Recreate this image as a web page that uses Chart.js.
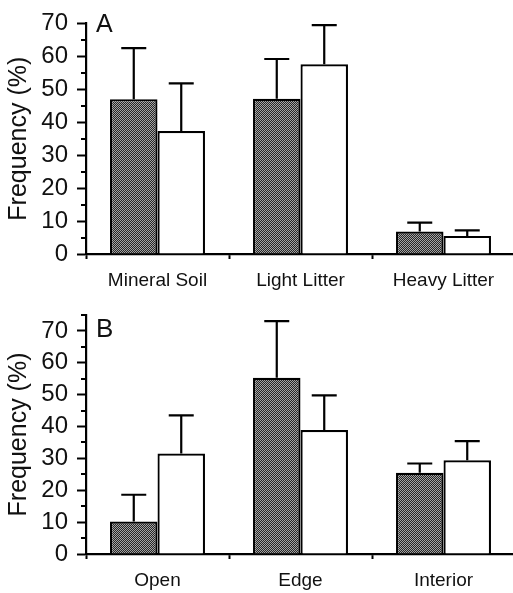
<!DOCTYPE html>
<html>
<head>
<meta charset="utf-8">
<script src="https://cdn.jsdelivr.net/npm/chart.js@4"></script>
<style>
  html, body { margin:0; padding:0; background:#fff; overflow:hidden; }
  .panel { position:absolute; left:0; }
  #panelA { top:0; }
  #panelB { top:290px; }
</style>
</head>
<body>
<canvas id="panelA" class="panel" width="515" height="290"></canvas>
<canvas id="panelB" class="panel" width="515" height="303"></canvas>
<script>
// panel A: substrate
const substrateCats = ['Mineral Soil', 'Light Litter', 'Heavy Litter'];
const substrateDark = [47, 47.1, 6.8];
const substrateDarkErr = [62.5, 59.2, 9.5];
const substrateLight = [37.3, 57.6, 5.5];
const substrateLightErr = [51.8, 69.5, 7.2];

// panel B: habitat
const habitatCats = ['Open', 'Edge', 'Interior'];
const habitatDark = [10.2, 55.3, 25.5];
const habitatDarkErr = [18.6, 73.1, 28.4];
const habitatLight = [31.5, 38.9, 29.4];
const habitatLightErr = [43.5, 49.8, 35.4];

const FONT = "'Liberation Sans', Arial, Helvetica, sans-serif";
const INK = '#111';

// fine stipple fill for the dark bars
function stipple(){
  const c = document.createElement('canvas');
  c.width = 2; c.height = 2;
  const g = c.getContext('2d');
  g.fillStyle = '#262626'; g.fillRect(0,0,2,2);
  g.fillStyle = '#a4a4a4'; g.fillRect(0,0,1,1); g.fillRect(1,1,1,1);
  return g.createPattern(c, 'repeat');
}

// upper error bars, read from dataset.errHi through the y scale
const errorBars = {
  id: 'errorBars',
  afterDatasetsDraw(chart){
    const ctx = chart.ctx, y = chart.scales.y;
    ctx.save();
    ctx.strokeStyle = '#000'; ctx.lineWidth = 2.2;
    chart.data.datasets.forEach((ds, di) => {
      chart.getDatasetMeta(di).data.forEach((bar, i) => {
        const top = y.getPixelForValue(ds.errHi[i]);
        ctx.beginPath();
        ctx.moveTo(bar.x, bar.y); ctx.lineTo(bar.x, top);
        ctx.moveTo(bar.x - 12.5, top); ctx.lineTo(bar.x + 12.5, top);
        ctx.stroke();
      });
    });
    ctx.restore();
  }
};

// short minor ticks on the y axis + panel letter
const extras = {
  id: 'extras',
  afterDraw(chart, args, opts){
    const ctx = chart.ctx, y = chart.scales.y, left = chart.chartArea.left;
    ctx.save();
    ctx.strokeStyle = '#000'; ctx.lineWidth = 2;
    y.ticks.forEach(t => {
      if(t.value % 10 === 0) return;
      const py = Math.round(y.getPixelForValue(t.value));
      ctx.beginPath(); ctx.moveTo(left - 5, py); ctx.lineTo(left, py); ctx.stroke();
    });
    ctx.fillStyle = INK;
    ctx.font = opts.size + 'px ' + FONT;
    ctx.textBaseline = 'alphabetic';
    ctx.fillText(opts.letter, left + 10, opts.baseline);
    ctx.restore();
  }
};

function makePanel(id, letter, cats, dark, darkErr, light, lightErr, yMax, topPad, xHeight, letterBase, letterSize){
  return new Chart(document.getElementById(id), {
    type: 'bar',
    data: {
      labels: cats,
      datasets: [
        { label:'dark', data: dark, errHi: darkErr, backgroundColor: stipple(), borderColor:'#000', borderWidth:2.2 },
        { label:'light', data: light, errHi: lightErr, backgroundColor:'#fff', borderColor:'#000', borderWidth:2.2 }
      ]
    },
    options: {
      responsive:false,
      animation:false,
      layout:{ padding:{ top: topPad, left:0, right:0, bottom:0 } },
      datasets:{ bar:{ barPercentage:1, categoryPercentage:0.664 } },
      plugins:{
        legend:{ display:false },
        tooltip:{ enabled:false },
        extras:{ letter, baseline: letterBase, size: letterSize }
      },
      scales:{
        x:{
          afterFit: s => { s.height = xHeight; },
          border:{ display:true, color:'#000', width:2.2 },
          grid:{ drawOnChartArea:false, tickLength:5, tickWidth:2, tickColor:'#000', offset:true },
          ticks:{ padding:10, color:INK, maxRotation:0, font:{ family:FONT, size:19 } }
        },
        y:{
          min:0, max:yMax,
          afterFit: s => { s.width = 86; },
          border:{ display:true, color:'#000', width:2.2 },
          grid:{
            drawOnChartArea:false, tickLength:9, tickWidth:2,
            tickColor: c => (c.tick && c.tick.value % 10 === 0) ? '#000' : 'rgba(0,0,0,0)'
          },
          ticks:{
            stepSize:5, autoSkip:false, padding:9, color:INK,
            font:{ family:FONT, size:24 },
            callback: v => v % 10 === 0 ? v : ''
          },
          title:{ display:true, text:'Frequency (%)', color:INK, font:{ family:FONT, size:25 }, padding:{ top:4, bottom:0 } }
        }
      }
    },
    plugins:[errorBars, extras]
  });
}

makePanel('panelA', 'A', substrateCats, substrateDark, substrateDarkErr, substrateLight, substrateLightErr, 70, 15, 36, 32, 25);
makePanel('panelB', 'B', habitatCats, habitatDark, habitatDarkErr, habitatLight, habitatLightErr, 75, 25, 39, 47, 26);
</script>
</body>
</html>
